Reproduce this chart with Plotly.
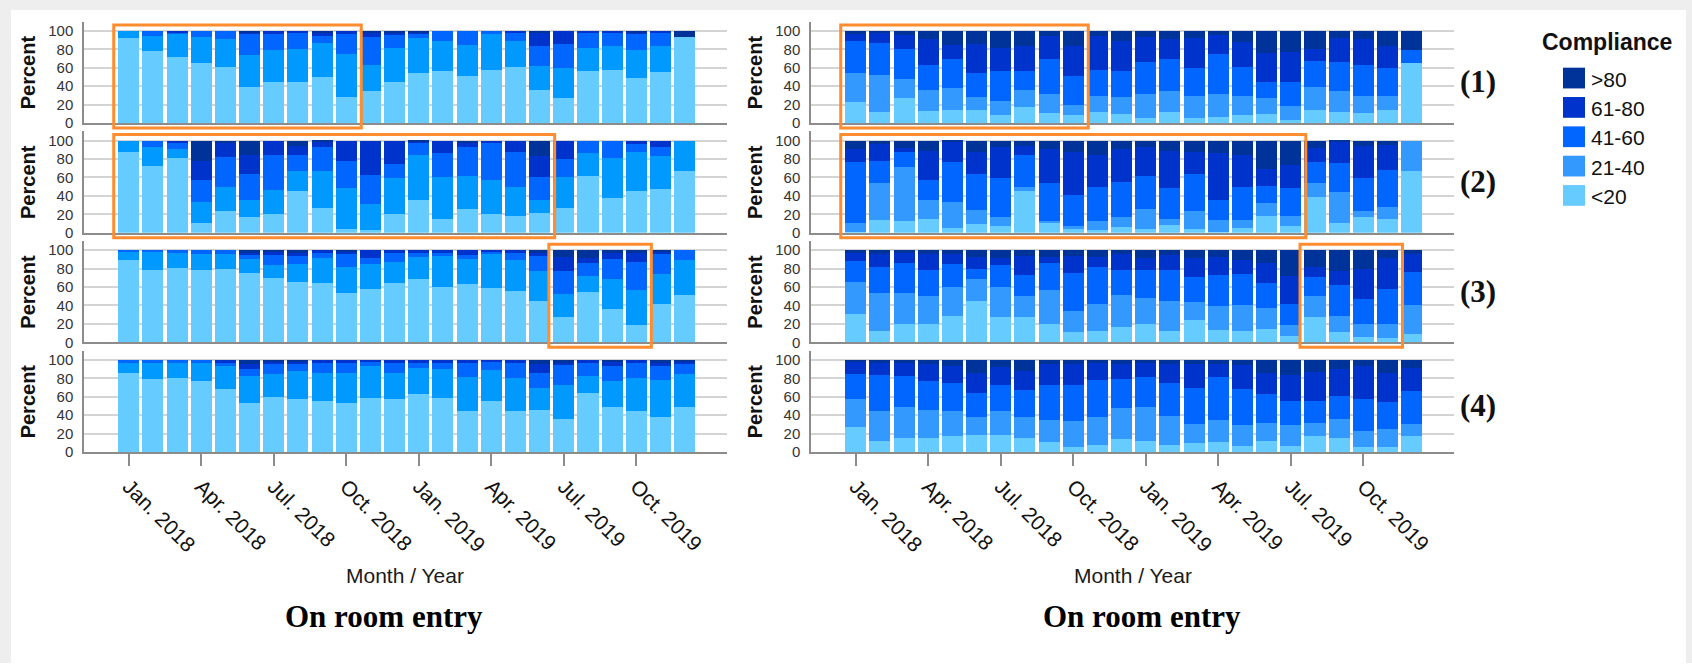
import plotly.graph_objects as go

# ---------------- data ----------------
months = ["Jan. 2018", "Feb. 2018", "Mar. 2018", "Apr. 2018", "May 2018", "Jun. 2018",
          "Jul. 2018", "Aug. 2018", "Sep. 2018", "Oct. 2018", "Nov. 2018", "Dec. 2018",
          "Jan. 2019", "Feb. 2019", "Mar. 2019", "Apr. 2019", "May 2019", "Jun. 2019",
          "Jul. 2019", "Aug. 2019", "Sep. 2019", "Oct. 2019", "Nov. 2019", "Dec. 2019"]
tick_months = ["Jan. 2018", "Apr. 2018", "Jul. 2018", "Oct. 2018",
               "Jan. 2019", "Apr. 2019", "Jul. 2019", "Oct. 2019"]

# stacking order bottom -> top
stack_order = ["<20", "21-40", "41-60", "61-80", ">80"]
legend_order = [">80", "61-80", "41-60", "21-40", "<20"]
panel_labels = ["(1)", "(2)", "(3)", "(4)"]

# each row: one month, values in stack_order (percent)
left_1 = [[92, 8, 0, 0, 0], [78, 16, 6, 0, 0], [72, 25, 2, 1, 0], [65, 28, 7, 0, 0],
          [61, 30, 9, 0, 0], [39, 35, 23, 2, 1], [45, 34, 19, 2, 0], [45, 35, 19, 1, 0],
          [50, 37, 7, 5, 1], [28, 47, 22, 3, 0], [35, 28, 30, 6, 1], [45, 36, 15, 3, 1],
          [54, 38, 5, 2, 1], [56, 33, 11, 0, 0], [51, 34, 15, 0, 0], [58, 40, 2, 0, 0],
          [61, 28, 10, 1, 0], [36, 26, 22, 15, 1], [27, 33, 26, 14, 0], [56, 25, 18, 1, 0],
          [58, 26, 15, 1, 0], [49, 30, 18, 2, 1], [55, 29, 15, 1, 0], [93, 0, 0, 0, 7]]
left_2 = [[87, 13, 0, 0, 0], [72, 21, 7, 0, 0], [81, 10, 6, 3, 0], [11, 22, 24, 21, 22],
          [23, 27, 32, 15, 3], [17, 19, 28, 20, 16], [20, 26, 38, 16, 0], [45, 22, 17, 10, 6],
          [27, 40, 26, 6, 1], [4, 44, 30, 22, 0], [3, 28, 32, 37, 0], [20, 39, 16, 25, 0],
          [36, 48, 13, 2, 1], [15, 45, 26, 14, 0], [26, 35, 32, 4, 3], [20, 37, 40, 3, 0],
          [18, 32, 37, 13, 0], [21, 14, 25, 23, 17], [27, 33, 20, 20, 0], [62, 24, 14, 0, 0],
          [38, 43, 19, 0, 0], [45, 42, 9, 4, 0], [47, 36, 10, 7, 0], [67, 33, 0, 0, 0]]
left_3 = [[89, 10, 1, 0, 0], [78, 21, 1, 0, 0], [81, 17, 2, 0, 0], [79, 17, 4, 0, 0],
          [80, 16, 4, 0, 0], [75, 15, 5, 2, 3], [70, 14, 11, 4, 1], [66, 19, 9, 4, 2],
          [64, 28, 6, 2, 0], [54, 28, 14, 3, 1], [58, 27, 6, 9, 0], [64, 23, 10, 3, 0],
          [69, 24, 5, 2, 0], [60, 34, 4, 2, 0], [63, 27, 5, 5, 0], [59, 37, 3, 1, 0],
          [56, 33, 9, 2, 0], [45, 32, 17, 4, 2], [27, 26, 24, 16, 7], [55, 17, 14, 5, 9],
          [36, 33, 21, 7, 3], [19, 38, 30, 11, 2], [42, 32, 22, 3, 1], [51, 38, 11, 0, 0]]
left_4 = [[86, 12, 2, 0, 0], [79, 18, 3, 0, 0], [80, 18, 2, 0, 0], [77, 20, 3, 0, 0],
          [68, 25, 5, 2, 0], [53, 30, 7, 5, 5], [60, 25, 11, 3, 1], [57, 31, 8, 3, 1],
          [55, 31, 12, 2, 0], [53, 33, 11, 3, 0], [59, 34, 6, 1, 0], [57, 29, 12, 2, 0],
          [63, 28, 6, 3, 0], [59, 31, 7, 3, 0], [45, 36, 17, 2, 0], [55, 34, 10, 1, 0],
          [44, 36, 17, 3, 0], [46, 24, 16, 10, 4], [36, 37, 21, 4, 2], [64, 19, 14, 3, 0],
          [49, 28, 16, 6, 1], [45, 35, 17, 3, 0], [38, 40, 15, 4, 3], [49, 36, 10, 4, 1]]

right_1 = [[23, 31, 35, 8, 3], [12, 40, 35, 12, 1], [27, 21, 32, 15, 5], [13, 23, 27, 28, 9],
           [14, 24, 31, 16, 15], [14, 14, 26, 32, 14], [9, 15, 32, 25, 19], [17, 19, 20, 27, 17],
           [11, 21, 37, 25, 6], [9, 11, 31, 33, 16], [12, 17, 29, 36, 6], [10, 18, 28, 33, 11],
           [5, 27, 34, 27, 7], [12, 23, 34, 22, 9], [5, 24, 31, 32, 8], [7, 24, 44, 20, 5],
           [9, 20, 32, 27, 12], [10, 17, 17, 32, 24], [3, 15, 26, 33, 23], [14, 25, 28, 13, 20],
           [12, 23, 31, 26, 8], [11, 18, 34, 28, 9], [14, 15, 31, 23, 17], [65, 0, 14, 0, 21]]
right_2 = [[1, 10, 66, 14, 9], [14, 40, 24, 18, 4], [13, 58, 16, 5, 8], [15, 21, 21, 32, 11],
           [5, 28, 44, 22, 1], [9, 16, 39, 24, 12], [7, 10, 42, 34, 7], [45, 5, 34, 10, 6],
           [11, 2, 41, 37, 9], [4, 3, 34, 46, 13], [3, 10, 37, 34, 16], [6, 11, 38, 36, 9],
           [4, 22, 35, 32, 7], [8, 7, 33, 41, 11], [4, 19, 41, 23, 13], [1, 13, 22, 50, 14],
           [5, 9, 36, 34, 16], [18, 14, 19, 18, 31], [7, 11, 30, 25, 27], [39, 15, 23, 15, 8],
           [10, 34, 32, 23, 1], [17, 6, 36, 35, 6], [15, 13, 40, 27, 5], [67, 33, 0, 0, 0]]
right_3 = [[31, 35, 22, 10, 2], [12, 42, 28, 14, 4], [20, 34, 32, 11, 3], [20, 30, 29, 17, 4],
           [29, 31, 25, 11, 4], [45, 24, 11, 13, 7], [27, 33, 24, 8, 8], [27, 23, 23, 21, 6],
           [20, 37, 29, 7, 7], [11, 23, 41, 19, 6], [12, 30, 40, 11, 7], [17, 34, 28, 17, 4],
           [20, 28, 31, 13, 8], [12, 33, 33, 17, 5], [24, 20, 27, 20, 9], [13, 26, 34, 20, 7],
           [12, 29, 33, 15, 11], [14, 23, 27, 22, 14], [7, 12, 23, 30, 28], [28, 22, 21, 11, 18],
           [11, 18, 33, 15, 23], [6, 14, 27, 33, 20], [5, 15, 38, 33, 9], [9, 32, 35, 20, 4]]
right_4 = [[27, 30, 28, 14, 1], [12, 32, 40, 14, 2], [15, 34, 34, 14, 3], [15, 31, 31, 19, 4],
           [17, 28, 30, 18, 7], [19, 19, 26, 22, 14], [19, 26, 28, 19, 8], [15, 23, 29, 21, 12],
           [11, 24, 38, 22, 5], [5, 29, 39, 23, 4], [8, 30, 40, 19, 3], [14, 34, 31, 17, 4],
           [12, 37, 32, 16, 3], [8, 31, 36, 21, 4], [10, 20, 40, 26, 4], [11, 24, 46, 15, 4],
           [7, 22, 39, 26, 6], [12, 20, 31, 23, 14], [7, 22, 26, 29, 16], [17, 15, 23, 32, 13],
           [15, 21, 25, 29, 10], [5, 18, 35, 35, 7], [5, 20, 29, 32, 14], [17, 13, 36, 25, 9]]

# highlighted month spans (column, row, first month, last month)
highlights = [(0, 0, "Jan. 2018", "Oct. 2018"), (0, 1, "Jan. 2018", "Jun. 2019"),
              (0, 2, "Jul. 2019", "Oct. 2019"), (1, 0, "Jan. 2018", "Oct. 2018"),
              (1, 1, "Jan. 2018", "Jul. 2019"), (1, 2, "Aug. 2019", "Nov. 2019")]

# ---------------- styling ----------------
colors_left = {"<20": "#66CCFF", "21-40": "#0099FF", "41-60": "#0066FF",
               "61-80": "#0033CC", ">80": "#003399"}
colors_right = {"<20": "#66CCFF", "21-40": "#3399FF", "41-60": "#0066FF",
                "61-80": "#0033CC", ">80": "#003399"}
SANS = "Liberation Sans, Arial, sans-serif"
SERIF = "Liberation Serif, Times New Roman, serif"
ORANGE = "#FF8C2E"
AXIS_GRAY = "#8c8c8c"
GRID_GRAY = "#d4d4d4"
FRAME_GRAY = "#eeeeee"

W, H = 1692, 671
def fx(p):
    return p / W
def fy(p):
    return 1 - p / H

col_px = [(84, 727), (811, 1454)]
XR = [-1.85, 24.75]
YR = [0, 110]
ZERO0, STEP, UNIT = 124.5, 111.0, 0.933   # px of zero line (row 0), row pitch, px per percent
TOP0 = ZERO0 - YR[1] * UNIT

panels = [[left_1, left_2, left_3, left_4], [right_1, right_2, right_3, right_4]]
col_colors = [colors_left, colors_right]

fig = go.Figure()
layout_axes = {}
for c in range(2):
    for r in range(4):
        n = c * 4 + r + 1
        xa = "x" if n == 1 else f"x{n}"
        ya = "y" if n == 1 else f"y{n}"
        rows = panels[c][r]
        for j, cat in enumerate(stack_order):
            fig.add_trace(go.Bar(
                x=months, y=[row[j] for row in rows], name=cat,
                xaxis=xa, yaxis=ya, showlegend=False,
                marker=dict(color=col_colors[c][cat], line=dict(width=0)),
            ))
        top = TOP0 + STEP * r
        bot = ZERO0 + STEP * r
        bottom_row = (r == 3)
        layout_axes["xaxis" if n == 1 else f"xaxis{n}"] = dict(
            domain=[fx(col_px[c][0]), fx(col_px[c][1])], anchor=ya,
            type="category", categoryorder="array", categoryarray=months,
            range=XR, showgrid=False, zeroline=False,
            showline=True, linecolor=AXIS_GRAY, linewidth=2,
            tickmode="array", tickvals=tick_months, ticktext=tick_months,
            showticklabels=bottom_row, ticks="outside" if bottom_row else "",
            ticklen=12, tickwidth=1.5, tickcolor=AXIS_GRAY, tickangle=45,
            tickfont=dict(family=SANS, size=21, color="#111111"),
        )
        layout_axes["yaxis" if n == 1 else f"yaxis{n}"] = dict(
            domain=[fy(bot), fy(top)], anchor=xa, range=YR,
            tickmode="array", tickvals=[0, 20, 40, 60, 80, 100],
            showgrid=True, gridcolor=GRID_GRAY, gridwidth=2, zeroline=False,
            showline=True, linecolor=AXIS_GRAY, linewidth=1.5, ticks="",
            ticklabelstandoff=6,
            tickfont=dict(family=SANS, size=15, color="#333333"),
        )

annotations = []
shapes = []

# light grey frame on top, left and right edges of the white page
for (x0, x1, y0, y1) in [(0, W, 0, 10), (0, 11, 0, H), (1686, W, 0, H)]:
    shapes.append(dict(type="rect", xref="paper", yref="paper", x0=fx(x0), x1=fx(x1),
                       y0=fy(y1), y1=fy(y0), fillcolor=FRAME_GRAY, line=dict(width=0),
                       layer="below"))

# y axis titles
for c, xc in enumerate([28, 755]):
    for r in range(4):
        yc = (TOP0 + ZERO0) / 2 + STEP * r
        annotations.append(dict(text="<b>Percent</b>", x=fx(xc), y=fy(yc), xref="paper", yref="paper",
                                textangle=-90, showarrow=False, xanchor="center", yanchor="middle",
                                font=dict(family=SANS, size=20, color="#111111")))

# x titles and captions
for c, (xm, xcap) in enumerate([(405, 384), (1133, 1142)]):
    annotations.append(dict(text="Month / Year", x=fx(xm), y=fy(582), xref="paper", yref="paper",
                            showarrow=False, xanchor="center", yanchor="middle",
                            font=dict(family=SANS, size=21, color="#1a1a1a")))
    annotations.append(dict(text="<b>On room entry</b>", x=fx(xcap), y=fy(624), xref="paper",
                            yref="paper", showarrow=False, xanchor="center", yanchor="middle",
                            font=dict(family=SERIF, size=31, color="#000000")))

# panel numbers
for r, lab in enumerate(panel_labels):
    yc = [82, 184, 295, 410][r]
    annotations.append(dict(text=f"<b>{lab}</b>", x=fx(1478), y=fy(yc), xref="paper", yref="paper",
                            showarrow=False, xanchor="center", yanchor="middle",
                            font=dict(family=SERIF, size=31, color="#111111")))

# legend (drawn manually to match swatch size/spacing)
annotations.append(dict(text="<b>Compliance</b>", x=fx(1607), y=fy(43), xref="paper", yref="paper",
                        showarrow=False, xanchor="center", yanchor="middle",
                        font=dict(family=SANS, size=23, color="#111111")))
for i, cat in enumerate(legend_order):
    yc = 79 + 29.7 * i
    shapes.append(dict(type="rect", xref="paper", yref="paper", x0=fx(1563), x1=fx(1585),
                       y0=fy(yc + 10.5), y1=fy(yc - 10.5), fillcolor=colors_right[cat],
                       line=dict(width=0)))
    annotations.append(dict(text=cat, x=fx(1589), y=fy(yc + 1), xref="paper", yref="paper",
                            showarrow=False, xanchor="left", yanchor="middle",
                            font=dict(family=SANS, size=21, color="#111111")))

# orange highlight boxes
pitch = (col_px[0][1] - col_px[0][0]) / (XR[1] - XR[0])
for c, r, m0, m1 in highlights:
    i0, i1 = months.index(m0), months.index(m1)
    x0 = col_px[c][0] + (i0 - 0.62 - XR[0]) * pitch
    x1 = col_px[c][0] + (i1 + 0.62 - XR[0]) * pitch
    y0 = ZERO0 + STEP * r - 100 * UNIT - 6
    y1 = ZERO0 + STEP * r + 5
    shapes.append(dict(type="rect", xref="paper", yref="paper", x0=fx(x0), x1=fx(x1),
                       y0=fy(y1), y1=fy(y0), line=dict(color=ORANGE, width=3),
                       fillcolor="rgba(0,0,0,0)", layer="above"))

fig.update_layout(
    width=W, height=H, margin=dict(l=0, r=0, t=0, b=0),
    paper_bgcolor="white", plot_bgcolor="white",
    barmode="stack", bargap=0.13, showlegend=False,
    annotations=annotations, shapes=shapes,
    font=dict(family=SANS),
    **layout_axes,
)

page_fix = (
    "document.documentElement.style.overflow='hidden';"
    "document.body.style.margin='0';"
    "document.body.style.overflow='hidden';"
    "document.body.style.background='white';"
)
fig.write_html("out.html", config={"displayModeBar": False}, post_script=page_fix)
